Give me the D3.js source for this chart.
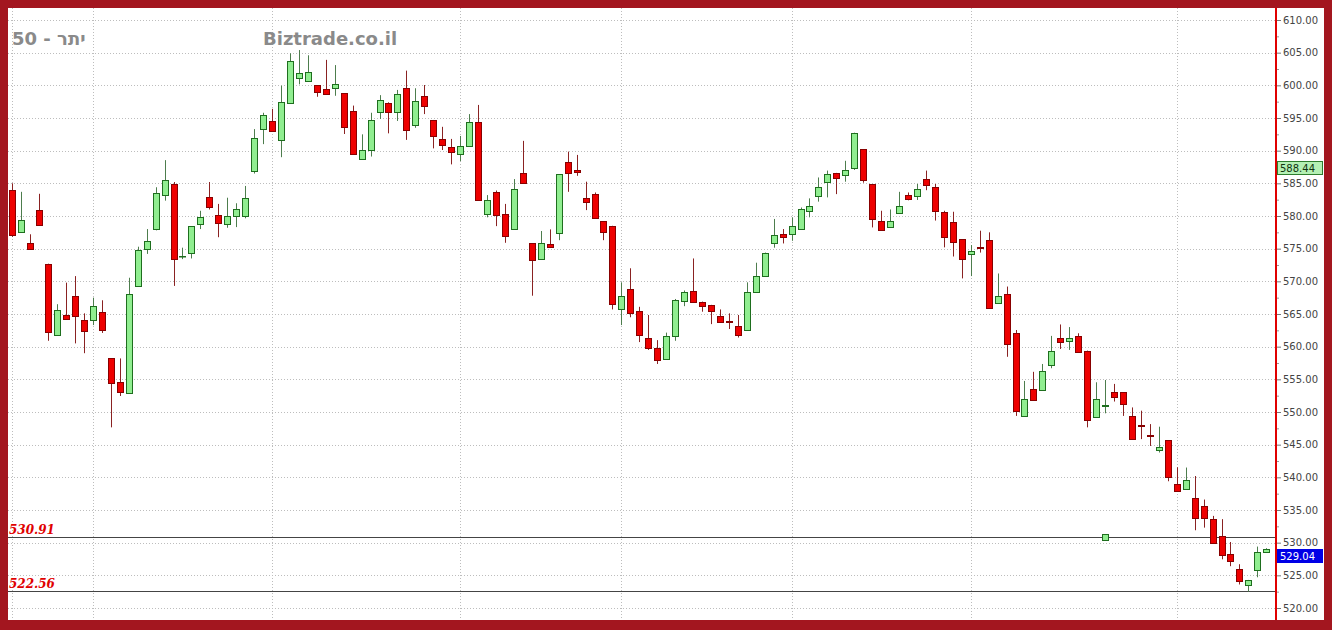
<!DOCTYPE html>
<html><head><meta charset="utf-8">
<script src="https://cdn.jsdelivr.net/npm/d3@7"></script>
<style>html,body{margin:0;padding:0;background:#a3161f;} svg{display:block}</style>
</head><body><svg id="c" width="1332" height="630"></svg>
<script>
// ---- data ----
const opens  = [584.0,577.6,575.8,580.9,572.65,561.8,564.85,567.75,564.1,564.1,565.35,558.2,554.55,552.85,569.3,575.0,578.0,583.15,584.95,573.9,574.25,578.8,582.9,580.2,578.8,580.0,580.0,586.9,593.25,594.55,591.65,597.4,601.1,600.75,600.05,599.4,599.55,598.8,596.05,588.7,590.1,595.9,597.35,595.95,599.65,593.95,598.35,594.7,591.8,590.6,589.6,590.75,594.45,580.3,583.6,580.3,577.95,586.6,575.8,573.45,575.7,577.35,588.3,587.1,582.8,583.35,579.2,578.5,565.75,568.9,565.5,561.4,559.85,558.2,561.65,566.9,568.55,566.9,566.4,564.75,564.0,563.2,562.65,568.4,570.95,575.8,577.25,577.35,578.05,580.8,583.05,585.35,586.6,586.3,587.45,590.2,584.85,579.3,578.35,580.55,583.25,583.05,585.6,584.5,580.55,579.15,576.45,574.2,575.25,576.35,566.8,568.05,562.05,549.4,553.5,553.35,557.2,561.3,560.9,561.65,559.4,549.15,551.0,553.0,553.0,549.45,548.0,546.5,544.2,545.7,538.95,538.15,536.9,535.6,533.6,531.05,528.2,525.95,523.6,525.7,528.6];
const highs  = [585.0,583.7,577.2,583.4,572.7,566.5,569.8,570.8,565.1,567.5,567.1,558.2,558.2,570.55,575.3,578.0,584.4,588.55,585.2,575.15,578.4,580.8,585.2,581.85,582.8,581.95,584.6,593.3,595.8,596.4,599.95,604.9,605.4,604.6,600.05,603.9,603.1,598.8,596.9,592.5,595.8,598.5,597.4,599.3,602.25,599.55,600.05,594.7,593.65,591.8,592.25,595.6,597.0,583.2,583.9,581.85,585.65,591.5,575.8,577.7,577.95,586.4,589.85,589.35,585.25,583.6,579.2,578.5,569.85,572.0,566.1,564.85,561.0,562.15,567.3,568.6,573.5,566.9,566.4,565.7,565.1,564.85,569.85,572.85,574.4,579.55,578.0,579.8,581.3,582.7,585.9,586.95,586.6,588.45,592.75,590.2,584.85,580.8,581.0,583.7,583.6,584.9,586.95,584.9,580.8,580.65,576.45,575.55,577.75,577.5,571.2,569.2,562.55,554.75,556.15,557.35,561.65,563.4,563.0,562.05,559.4,554.55,554.9,554.3,553.0,550.7,550.2,548.15,547.75,545.7,541.55,541.5,540.2,536.6,534.1,533.6,530.1,526.7,524.3,529.4,529.15];
const lows   = [576.8,577.4,574.9,578.5,560.9,561.8,564.2,560.5,559.0,563.3,562.1,547.65,552.45,552.85,569.3,574.2,577.8,582.35,569.3,573.4,573.5,578.0,581.0,576.75,578.2,578.3,579.65,586.5,591.0,593.0,589.0,597.4,600.15,600.75,598.25,598.6,598.4,592.55,589.45,588.7,589.1,594.85,592.65,594.55,591.65,593.5,595.6,590.35,590.1,587.9,588.4,590.75,582.55,579.8,578.45,575.9,577.95,585.0,567.8,573.45,575.3,576.3,583.7,586.15,580.9,579.65,576.3,565.7,563.3,564.5,560.7,559.5,557.35,558.2,560.9,566.2,566.8,565.35,563.45,563.8,562.7,561.4,562.65,568.4,570.7,575.15,575.8,576.2,578.05,579.8,582.2,582.85,583.35,585.25,587.05,585.1,578.25,577.95,578.35,580.55,582.4,582.45,583.95,579.3,575.2,573.8,570.45,570.8,574.4,566.0,566.8,558.45,549.4,549.4,551.85,553.35,556.7,559.65,559.5,559.25,547.65,549.15,549.8,551.6,549.4,545.95,545.85,544.8,543.8,539.4,537.95,538.15,531.9,532.3,529.95,527.45,526.4,523.6,522.5,524.7,528.55];
const closes = [577.1,579.4,574.9,578.6,562.3,565.6,564.2,564.7,562.4,566.3,562.65,554.4,552.95,568.0,574.8,576.2,583.5,585.45,573.4,573.95,578.4,579.8,581.3,578.9,579.95,581.1,582.8,591.9,595.45,593.05,597.5,603.8,601.85,602.1,599.0,598.6,600.2,593.65,589.45,590.1,594.7,597.75,595.9,598.7,593.15,597.65,596.75,592.25,590.85,589.85,590.75,594.35,582.55,582.45,580.05,576.95,584.1,585.0,573.15,575.9,575.3,586.4,586.6,586.8,582.2,579.65,577.5,566.5,567.75,565.25,561.9,559.9,558.05,561.7,567.15,568.35,566.8,566.3,565.5,563.8,563.9,561.8,568.4,570.85,574.4,577.1,576.75,578.5,581.1,581.6,584.5,586.5,585.9,587.05,592.75,585.4,579.5,577.95,579.2,581.6,582.65,584.1,584.75,580.8,576.75,576.05,573.35,574.7,575.05,566.0,567.8,560.35,550.05,551.95,551.85,556.3,559.4,560.75,561.3,559.25,548.8,551.95,551.1,552.25,551.1,545.95,547.9,546.4,544.7,540.05,537.95,539.6,533.9,533.7,529.95,528.1,527.1,524.1,524.3,528.5,529.04];
const monthStarts = [0, 9, 29, 50, 68, 87, 107, 130];          // candle indices with vertical grid lines
const yTickValues = [520,525,530,535,540,545,550,555,560,565,570,575,580,585,590,595,600,605,610];
const yMinorValues = [522.5,527.5,532.5,537.5,542.5,547.5,552.5,557.5,562.5,567.5,572.5,577.5,582.5,587.5,592.5,597.5,602.5,607.5];
const levelValues = [530.91, 522.56];
const levelLabels = ["530.91", "522.56"];
const markerIndex = 122, markerValue = 530.91;
const tagValues = [588.44, 529.04];
const tagLabels = ["588.44", "529.04"];
const titleText = "50 - יתר";
const siteText = "Biztrade.co.il";

// ---- drawing ----
const W = 1332, H = 630;
const L = 8, R = 1276, T = 8, B = 620;
const svg = d3.select('#c');
svg.append('rect').attr('width', W).attr('height', H).attr('fill', '#a3161f');
svg.append('rect').attr('x', L).attr('y', T).attr('width', 1324 - L).attr('height', B - T).attr('fill', '#fff');

const y = d3.scaleLinear().domain([520, 610]).range([608, 20]);
const x = d3.scaleBand().domain(d3.range(opens.length)).range([7.8, 1270.8]).paddingInner(0.33).paddingOuter(0.165);
const cx = i => x(i) + x.bandwidth() / 2;

// horizontal grid
svg.append('g').selectAll('line').data(yTickValues).join('line')
  .attr('x1', L).attr('x2', R).attr('y1', d => Math.round(y(d)) + 0.5).attr('y2', d => Math.round(y(d)) + 0.5)
  .attr('stroke', '#bdbdbd').attr('stroke-dasharray', '1,2');
// vertical grid
svg.append('g').selectAll('line').data(monthStarts).join('line')
  .attr('x1', d => Math.round(cx(d)) + 0.5).attr('x2', d => Math.round(cx(d)) + 0.5).attr('y1', T).attr('y2', B)
  .attr('stroke', '#bdbdbd').attr('stroke-dasharray', '1,2');

// header texts
svg.append('text').attr('x', 12).attr('y', 45).text(titleText)
  .attr('font-family', 'DejaVu Sans, Verdana, sans-serif').attr('font-weight', 'bold').attr('font-size', 18).attr('fill', '#8a8a8a');
svg.append('text').attr('x', 263).attr('y', 45).text(siteText)
  .attr('font-family', 'DejaVu Sans, Verdana, sans-serif').attr('font-weight', 'bold').attr('font-size', 18).attr('fill', '#8a8a8a');

// support / resistance lines
svg.append('g').selectAll('line').data(levelValues).join('line')
  .attr('x1', L).attr('x2', R).attr('y1', d => Math.round(y(d)) + 0.5).attr('y2', d => Math.round(y(d)) + 0.5)
  .attr('stroke', '#444').attr('stroke-width', 1);
svg.append('g').selectAll('text').data(levelValues).join('text')
  .attr('x', 9).attr('y', d => y(d) - 3).text((d, i) => levelLabels[i])
  .attr('font-family', 'DejaVu Serif, serif').attr('font-style', 'italic').attr('font-weight', 'bold')
  .attr('font-size', 12).attr('fill', '#e00000');

// candles
const idx = d3.range(opens.length);
const up = i => closes[i] >= opens[i];
const g = svg.append('g');
g.selectAll('line.wick').data(idx).join('line').attr('class', 'wick')
  .attr('x1', i => Math.round(cx(i)) + 0.5).attr('x2', i => Math.round(cx(i)) + 0.5)
  .attr('y1', i => y(highs[i])).attr('y2', i => y(lows[i]))
  .attr('stroke', i => up(i) ? '#4d7d4d' : '#8a2222').attr('stroke-width', 1);
g.selectAll('rect.body').data(idx).join('rect').attr('class', 'body')
  .attr('x', i => Math.round(x(i)) + 0.5)
  .attr('y', i => Math.round(y(Math.max(opens[i], closes[i]))) + 0.5)
  .attr('width', Math.round(x.bandwidth()))
  .attr('height', i => Math.max(0.5, Math.round(Math.abs(y(opens[i]) - y(closes[i])))))
  .attr('fill', i => up(i) ? '#90ee90' : '#ee0000')
  .attr('stroke', i => up(i) ? '#1e6e1e' : '#880000').attr('stroke-width', 1);

// marker
svg.append('rect').attr('x', Math.round(cx(markerIndex)) - 2.5).attr('y', Math.round(y(markerValue)) - 2.5)
  .attr('width', 6).attr('height', 6).attr('fill', '#90ee90').attr('stroke', '#1e6e1e');

// right axis
const axis = d3.axisRight(y).tickValues(yTickValues).tickFormat(d3.format('.2f')).tickSize(4).tickPadding(2);
const gA = svg.append('g').attr('transform', `translate(${R + 1},0)`).call(axis);
gA.select('.domain').remove();
gA.selectAll('text').attr('font-family', 'DejaVu Sans, Verdana, sans-serif').attr('font-size', 10).attr('fill', '#444');
gA.selectAll('line').attr('stroke', '#777');
const axisMinor = d3.axisRight(y).tickValues(yMinorValues).tickFormat('').tickSize(2);
const gM = svg.append('g').attr('transform', `translate(${R + 1},0)`).call(axisMinor);
gM.select('.domain').remove();
gM.selectAll('line').attr('stroke', '#999');

svg.append('line').attr('x1', R).attr('x2', R).attr('y1', T).attr('y2', B).attr('stroke', '#e00000').attr('stroke-width', 2);

// price tags
const tagFill = ['#b4f0b4', '#0000e6'], tagStroke = ['#2e7d2e', '#0000e6'], tagText = ['#113311', '#ffffff'];
const tg = svg.append('g').selectAll('g').data(tagValues).join('g')
  .attr('transform', d => `translate(${R + 1},${Math.round(y(d))})`);
tg.append('rect').attr('x', 0.5).attr('y', 0.5).attr('width', 45).attr('height', 13)
  .attr('fill', (d, i) => tagFill[i]).attr('stroke', (d, i) => tagStroke[i]);
tg.append('text').attr('x', 3).attr('y', 11).text((d, i) => tagLabels[i])
  .attr('font-family', 'DejaVu Sans, Verdana, sans-serif').attr('font-size', 10).attr('fill', (d, i) => tagText[i]);
</script>
</body></html>
